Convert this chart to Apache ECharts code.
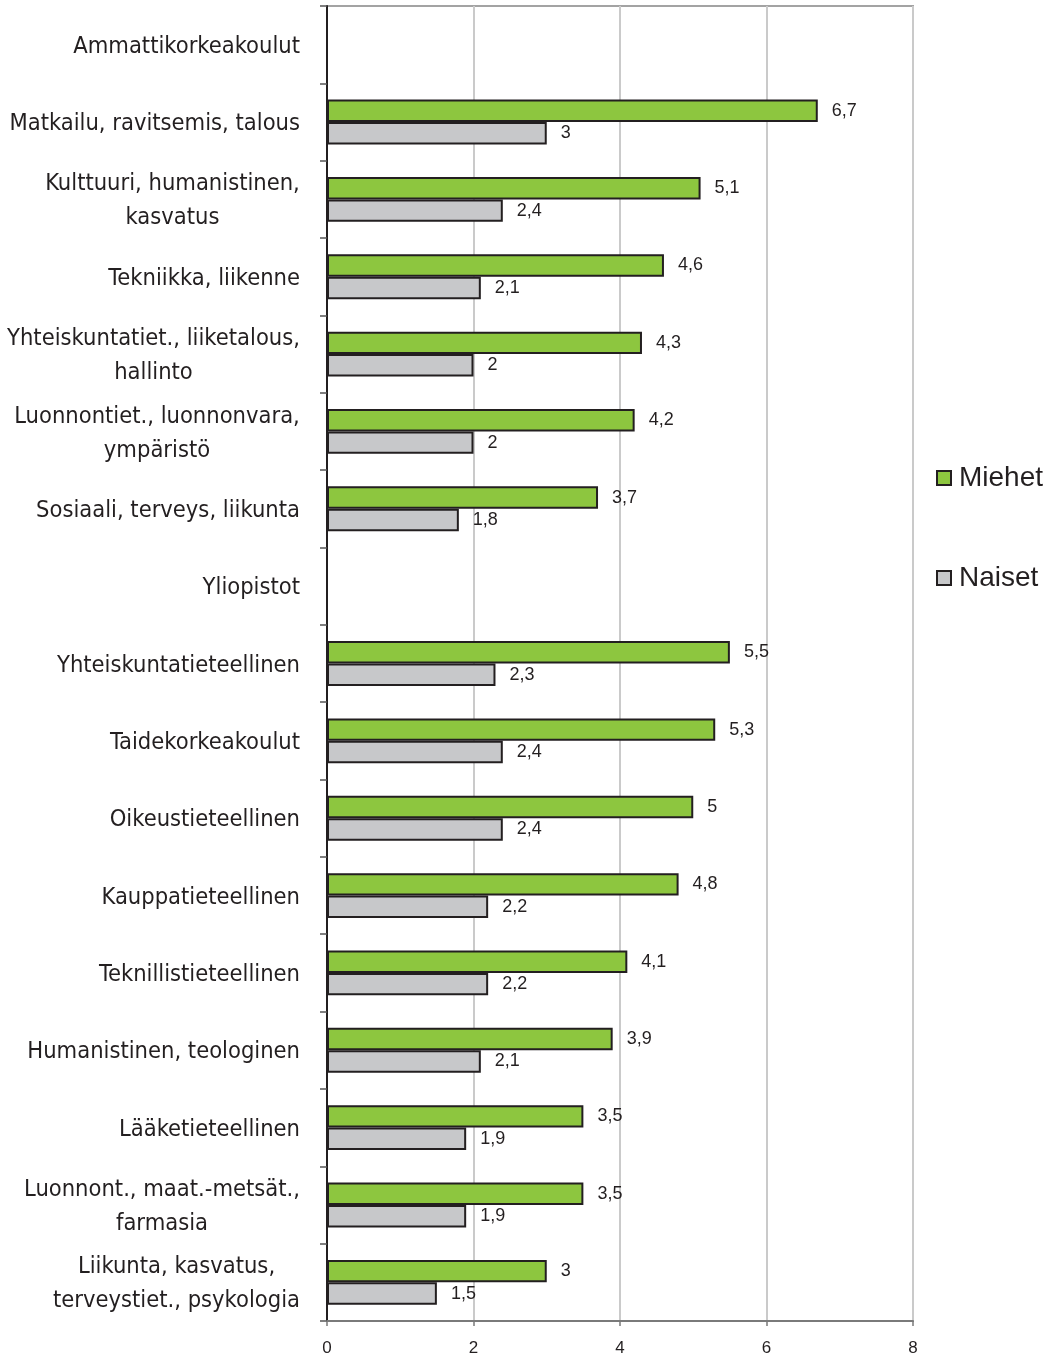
<!DOCTYPE html>
<html>
<head>
<meta charset="utf-8">
<script src="https://cdn.jsdelivr.net/npm/echarts@6/dist/echarts.min.js"></script>
<style>
  html, body { margin: 0; padding: 0; background: #fff; }
  #main { width: 1057px; height: 1356px; }
</style>
</head>
<body>
<div id="main"></div>
<script>
// categories, top to bottom
var categories = [
  'Ammattikorkeakoulut',
  'Matkailu, ravitsemis, talous',
  'Kulttuuri, humanistinen,\nkasvatus',
  'Tekniikka, liikenne',
  'Yhteiskuntatiet., liiketalous,\nhallinto',
  'Luonnontiet., luonnonvara,\nympäristö',
  'Sosiaali, terveys, liikunta',
  'Yliopistot',
  'Yhteiskuntatieteellinen',
  'Taidekorkeakoulut',
  'Oikeustieteellinen',
  'Kauppatieteellinen',
  'Teknillistieteellinen',
  'Humanistinen, teologinen',
  'Lääketieteellinen',
  'Luonnont., maat.-metsät.,\nfarmasia',
  'Liikunta, kasvatus,\nterveystiet., psykologia'
];
var miehet = [null, 6.7, 5.1, 4.6, 4.3, 4.2, 3.7, null, 5.5, 5.3, 5, 4.8, 4.1, 3.9, 3.5, 3.5, 3];
var naiset = [null, 3, 2.4, 2.1, 2, 2, 1.8, null, 2.3, 2.4, 2.4, 2.2, 2.2, 2.1, 1.9, 1.9, 1.5];
var seriesNames = ['Miehet', 'Naiset'];

var labelFont = '"Liberation Sans Narrow", "Arial Narrow", "DejaVu Sans Condensed", sans-serif';
var labelSize = 23.5;
var plainFont = '"Liberation Sans", Arial, sans-serif';

// multi-line labels: centre the lines within the block
var ctx = document.createElement('canvas').getContext('2d');
ctx.font = labelSize + 'px ' + labelFont;
var rich = {};
categories.forEach(function (c, i) {
  var w = 0;
  c.split('\n').forEach(function (l) { w = Math.max(w, ctx.measureText(l).width); });
  rich['c' + i] = { width: Math.ceil(w), align: 'center', fontSize: labelSize, fontFamily: labelFont, color: '#231f20', lineHeight: 34 };
});

function fmt(v) { return String(v).replace('.', ','); }

var valueLabel = {
  show: true, position: 'right', distance: 14,
  fontSize: 18, color: '#231f20', fontFamily: plainFont,
  padding: [4, 0, 0, 0],
  formatter: function (p) { return fmt(p.value); }
};

var myChart = echarts.init(document.getElementById('main'));
myChart.setOption({
  animation: false,
  backgroundColor: '#fff',
  grid: {
    left: 327, right: 144, top: 6, bottom: 35,
    containLabel: false,
    outerBoundsMode: 'none',
    show: true, borderColor: '#a3a3a3', borderWidth: 2
  },
  legend: {
    orient: 'vertical',
    left: 931,
    top: 459,
    itemWidth: 14,
    itemHeight: 14,
    itemGap: 72,
    icon: 'rect',
    data: seriesNames,
    textStyle: { fontSize: 28, color: '#231f20', fontFamily: plainFont, padding: [0, 0, 0, 3] }
  },
  xAxis: {
    type: 'value',
    min: 0, max: 8, interval: 2,
    axisLine: { show: true, lineStyle: { color: '#7a7a7a', width: 2 } },
    axisTick: { show: true, length: 5, lineStyle: { color: '#7a7a7a', width: 1.5 } },
    axisLabel: { fontSize: 17, color: '#231f20', margin: 19, fontFamily: plainFont },
    splitLine: { show: true, lineStyle: { color: '#cacaca', width: 2 } }
  },
  yAxis: {
    type: 'category',
    inverse: true,
    data: categories,
    axisLine: { show: true, lineStyle: { color: '#231f20', width: 2 } },
    axisTick: { show: true, length: 7, lineStyle: { color: '#555', width: 1.5 } },
    axisLabel: {
      margin: 27,
      fontSize: labelSize,
      fontFamily: labelFont,
      color: '#231f20',
      lineHeight: 34,
      padding: [4, 0, 0, 0],
      formatter: function (value, idx) {
        if (value.indexOf('\n') < 0) return value;
        return value.split('\n').map(function (l) { return '{c' + idx + '|' + l + '}'; }).join('\n');
      },
      rich: rich
    }
  },
  series: [
    {
      name: seriesNames[0],
      type: 'bar',
      data: miehet,
      barGap: '0%',
      barCategoryGap: '42%',
      itemStyle: { color: '#8dc63f', borderColor: '#231f20', borderWidth: 2 },
      label: valueLabel
    },
    {
      name: seriesNames[1],
      type: 'bar',
      data: naiset,
      barGap: '0%',
      barCategoryGap: '42%',
      itemStyle: { color: '#c7c8ca', borderColor: '#231f20', borderWidth: 2 },
      label: valueLabel
    }
  ]
});
</script>
</body>
</html>
